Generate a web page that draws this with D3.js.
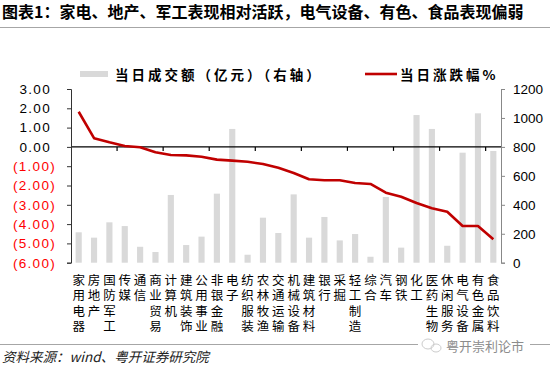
<!DOCTYPE html>
<html>
<head>
<meta charset="utf-8">
<script src="https://cdn.jsdelivr.net/npm/d3@7/dist/d3.min.js"></script>
<style>
    body {
        padding: 0;
        margin: 0;
        background: #fff;
    }
    svg {
        display: block;
    }
</style>
</head>
<body>
<script>
// 申万一级行业：当日成交额（亿元）与当日涨跌幅%
const industries = ['家用电器', '房地产', '国防军工', '传媒', '通信', '商业贸易', '计算机', '建筑装饰',
    '公用事业', '非银金融', '电子', '纺织服装', '农林牧渔', '交通运输', '机械设备', '建筑材料',
    '银行', '采掘', '轻工制造', '综合', '汽车', '钢铁', '化工', '医药生物', '休闲服务', '电气设备',
    '有色金属', '食品饮料'];
const turnover = [210, 173, 279, 253, 110, 74, 468, 122, 180, 477, 924, 55, 311, 205,
    472, 173, 316, 154, 198, 41, 454, 104, 1020, 924, 117, 760, 1032, 772];
const change = [1.82, 0.45, 0.24, 0.05, -0.02, -0.28, -0.42, -0.44, -0.51, -0.66, -0.71, -0.77,
    -0.89, -1.08, -1.35, -1.68, -1.73, -1.73, -1.87, -1.92, -2.37, -2.58, -2.91, -3.18, -3.36,
    -4.10, -4.10, -4.79];
const leftTicks = [3, 2, 1, 0, -1, -2, -3, -4, -5, -6];
const rightTicks = [0, 200, 400, 600, 800, 1000, 1200];

const width = 550;
const height = 372;
const plot = {left: 71, right: 501, top: 89, bottom: 262.7};

const svg = d3.create('svg')
    .attr('width', width)
    .attr('height', height)
    .attr('viewBox', [0, 0, width, height]);
document.body.appendChild(svg.node());

const cjk = '"Noto Sans CJK SC", "Noto Sans", sans-serif';
const latin = '"Liberation Sans", Arial, sans-serif';

// title + rule
svg.append('text')
    .attr('x', 2).attr('y', 18)
    .attr('font-family', cjk).attr('font-size', 16).attr('font-weight', 'bold')
    .attr('fill', '#000')
    .text('图表1：家电、地产、军工表现相对活跃，电气设备、有色、食品表现偏弱');
svg.append('line')
    .attr('x1', 0).attr('x2', width).attr('y1', 27.5).attr('y2', 27.5)
    .attr('stroke', '#a6a6a6').attr('stroke-width', 1);

const x = d3.scaleBand()
    .domain(d3.range(industries.length))
    .range([plot.left, plot.right])
    .paddingInner(0.6)
    .paddingOuter(0.3);
const yL = d3.scaleLinear().domain([-6, 3]).range([plot.bottom, plot.top]);
const yR = d3.scaleLinear().domain([0, 1200]).range([plot.bottom, plot.top]);

// bars (right axis)
svg.append('g')
    .selectAll('rect')
    .data(turnover)
    .join('rect')
        .attr('x', (d, i) => x(i))
        .attr('width', x.bandwidth())
        .attr('y', d => yR(d))
        .attr('height', d => yR(0) - yR(d))
        .attr('fill', '#d9d9d9');

// x axis at 0
const step = x.step();
const xAxis = svg.append('g');
xAxis.append('line')
    .attr('x1', plot.left).attr('x2', plot.right)
    .attr('y1', yL(0)).attr('y2', yL(0))
    .attr('stroke', '#000').attr('stroke-width', 1.2);
xAxis.selectAll('line.tick')
    .data(d3.range(3, industries.length, 3))
    .join('line')
        .classed('tick', true)
        .attr('x1', d => plot.left + d * step)
        .attr('x2', d => plot.left + d * step)
        .attr('y1', yL(0)).attr('y2', yL(0) + 4)
        .attr('stroke', '#000').attr('stroke-width', 1.2);

// left axis
const fmt = d => d < 0 ? `(${Math.abs(d).toFixed(2)})` : d.toFixed(2);
const gL = svg.append('g')
    .attr('transform', `translate(${plot.left},0)`)
    .call(d3.axisLeft(yL).tickValues(leftTicks).tickFormat(fmt).tickSizeOuter(0).tickSize(4));
gL.select('.domain').attr('stroke', '#333');
gL.selectAll('.tick line').attr('stroke', '#333');
gL.selectAll('.tick text')
    .attr('font-family', latin).attr('font-size', 13.5)
    .attr('letter-spacing', 1.3)
    .attr('x', d => d < 0 ? -15 : -20)
    .attr('fill', d => d < 0 ? '#ff0000' : '#000');

// right axis
const gR = svg.append('g')
    .attr('transform', `translate(${plot.right},0)`)
    .call(d3.axisRight(yR).tickValues(rightTicks).tickFormat(d3.format('d')).tickSizeOuter(0).tickSize(4));
gR.select('.domain').attr('stroke', '#888');
gR.selectAll('.tick line').attr('stroke', '#888');
gR.selectAll('.tick text')
    .attr('font-family', latin).attr('font-size', 13.5)
    .attr('x', 12)
    .attr('fill', '#000');

// change line (left axis)
const line = d3.line()
    .x((d, i) => x(i) + x.bandwidth() / 2)
    .y(d => yL(d));
svg.append('path')
    .datum(change)
    .attr('d', line)
    .attr('fill', 'none')
    .attr('stroke', '#c00000')
    .attr('stroke-width', 2.6)
    .attr('stroke-linejoin', 'round');

// vertical category labels
svg.append('g')
    .attr('font-family', cjk).attr('font-size', 12.5).attr('fill', '#000')
    .selectAll('text')
    .data(industries)
    .join('text')
        .attr('x', (d, i) => x(i) + x.bandwidth() / 2)
        .attr('y', 274)
        .attr('writing-mode', 'vertical-rl')
        .attr('letter-spacing', 2.9)
        .text(d => d);

// legend
const legend = svg.append('g')
    .attr('font-family', cjk).attr('font-size', 13.5).attr('font-weight', 'bold')
    .attr('fill', '#000')
    .attr('letter-spacing', 3);
legend.append('rect')
    .attr('x', 80).attr('y', 71).attr('width', 28).attr('height', 6)
    .attr('fill', '#d9d9d9');
legend.append('text')
    .attr('x', 115).attr('y', 74).attr('dominant-baseline', 'central')
    .text('当日成交额（亿元）（右轴）');
legend.append('line')
    .attr('x1', 365).attr('x2', 397).attr('y1', 74).attr('y2', 74)
    .attr('stroke', '#c00000').attr('stroke-width', 2.6);
legend.append('text')
    .attr('x', 400).attr('y', 74).attr('dominant-baseline', 'central')
    .text('当日涨跌幅%');

// footer
svg.append('line')
    .attr('x1', 0).attr('x2', width).attr('y1', 344.5).attr('y2', 344.5)
    .attr('stroke', '#a6a6a6').attr('stroke-width', 1);
svg.append('text')
    .attr('x', 2).attr('y', 362)
    .attr('font-family', cjk).attr('font-size', 13.5).attr('font-style', 'italic')
    .attr('fill', '#222')
    .text('资料来源：wind、粤开证券研究院');

// watermark
const wm = svg.append('g');
wm.append('rect')
    .attr('x', 418).attr('y', 337).attr('width', 112).attr('height', 16)
    .attr('fill', '#fff');
wm.append('ellipse')
    .attr('cx', 428).attr('cy', 344).attr('rx', 6).attr('ry', 5)
    .attr('fill', 'none').attr('stroke', '#ccc').attr('stroke-width', 1);
wm.append('ellipse')
    .attr('cx', 436).attr('cy', 348).attr('rx', 5).attr('ry', 4)
    .attr('fill', 'none').attr('stroke', '#ccc').attr('stroke-width', 1);
wm.append('text')
    .attr('x', 446).attr('y', 345).attr('dominant-baseline', 'central')
    .attr('font-family', cjk).attr('font-size', 13).attr('fill', '#8c8c8c')
    .text('粤开崇利论市');
</script>
</body>
</html>
